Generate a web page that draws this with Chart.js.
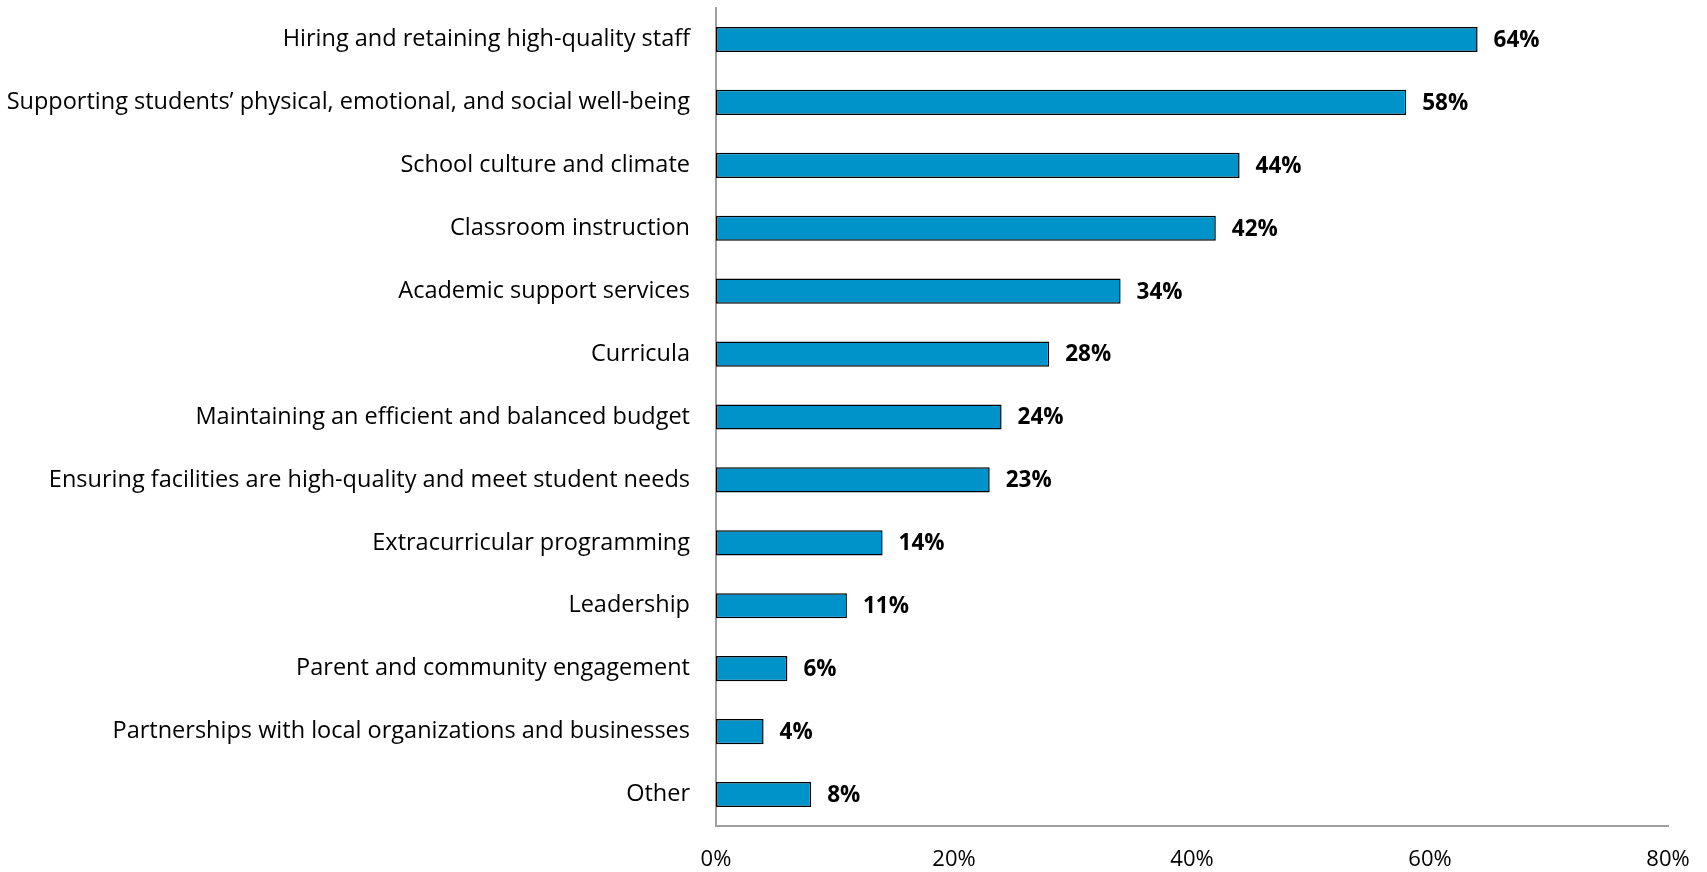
<!DOCTYPE html>
<html>
<head>
<meta charset="utf-8">
<script src="https://cdn.jsdelivr.net/npm/chart.js@4/dist/chart.umd.min.js"></script>
<style>
  html, body { margin: 0; padding: 0; background: #fff; }
  #wrap { width: 1707px; height: 872px; }
</style>
</head>
<body>
<div id="wrap"><canvas id="prioritiesChart"></canvas></div>
<script>
const categories = [
    "Hiring and retaining high-quality staff",
    "Supporting students\u2019 physical, emotional, and social well-being",
    "School culture and climate",
    "Classroom instruction",
    "Academic support services",
    "Curricula",
    "Maintaining an efficient and balanced budget",
    "Ensuring facilities are high-quality and meet student needs",
    "Extracurricular programming",
    "Leadership",
    "Parent and community engagement",
    "Partnerships with local organizations and businesses",
    "Other"
];
const shares = [64, 58, 44, 42, 34, 28, 24, 23, 14, 11, 6, 4, 8];
const axisTicks = [0, 20, 40, 60, 80];

const FONT = "'Open Sans', sans-serif";

// percentage next to the end of every bar
const valueLabels = {
    id: "valueLabels",
    afterDatasetsDraw(chart) {
        const ctx = chart.ctx;
        const meta = chart.getDatasetMeta(0);
        ctx.save();
        ctx.font = "bold 22.5px " + FONT;
        ctx.fillStyle = "#000";
        ctx.textAlign = "left";
        ctx.textBaseline = "middle";
        meta.data.forEach((bar, i) => {
            ctx.fillText(shares[i] + "%", bar.x + 16, bar.y + 1);
        });
        ctx.restore();
    }
};

const ctx = document.querySelector("#prioritiesChart").getContext("2d");

new Chart(ctx, {
    type: "bar",
    data: {
        labels: categories,
        datasets: [
            {
                data: shares,
                backgroundColor: "#0093C9",
                borderColor: "#000",
                borderWidth: 1.5,
                borderSkipped: false,
                barPercentage: 0.4,
                categoryPercentage: 1
            }
        ]
    },
    options: {
        indexAxis: "y",
        responsive: true,
        maintainAspectRatio: false,
        animation: false,
        layout: { padding: { top: 8, right: 39, left: 0, bottom: 0 } },
        plugins: {
            legend: { display: false },
            tooltip: { enabled: false }
        },
        scales: {
            x: {
                min: 0,
                max: 80,
                afterBuildTicks: scale => {
                    scale.ticks = axisTicks.map(v => ({ value: v }));
                },
                afterFit: scale => {
                    scale.height = 46;
                    scale.paddingLeft = 0;
                    scale.paddingRight = 0;
                },
                grid: { display: false, drawTicks: false },
                border: { display: true, color: "#A0A0A0", width: 2 },
                ticks: {
                    padding: 21,
                    color: "#000",
                    font: { family: FONT, size: 22 },
                    maxRotation: 0,
                    callback: v => v + "%"
                }
            },
            y: {
                afterFit: scale => {
                    scale.width = 716;
                    scale.paddingTop = 0;
                    scale.paddingBottom = 0;
                },
                grid: { display: false, drawTicks: false },
                border: { display: true, color: "#A0A0A0", width: 2 },
                ticks: {
                    padding: 26,
                    color: "#000",
                    font: { family: FONT, size: 23.5 },
                    autoSkip: false
                }
            }
        }
    },
    plugins: [valueLabels]
});
</script>
</body>
</html>
